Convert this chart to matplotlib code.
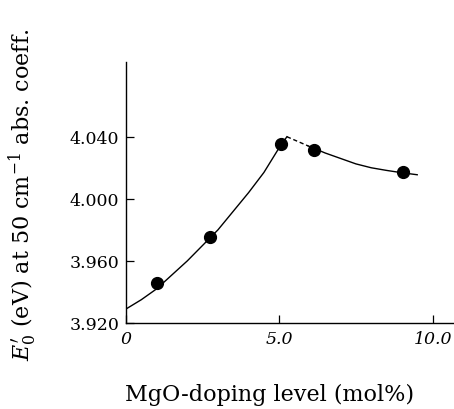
import matplotlib
matplotlib.use("Agg")
import matplotlib.pyplot as plt

# measured data points
mgo_points = [1.0, 2.75, 5.05, 6.13, 9.03]
e0_points = [3.946, 3.9757, 4.035, 4.0316, 4.0172]

# fitted curve as drawn
rise_x = [0.0, 0.5, 1.0, 1.5, 2.0, 2.5, 3.0, 3.5, 4.0, 4.5, 5.0, 5.25]
rise_y = [3.929, 3.935, 3.942, 3.951, 3.960, 3.970, 3.980, 3.992, 4.004, 4.017, 4.033, 4.040]
dash_x = [5.25, 5.6, 5.95]
dash_y = [4.040, 4.037, 4.034]
fall_x = [5.95, 6.5, 7.0, 7.5, 8.0, 8.5, 9.0, 9.5]
fall_y = [4.034, 4.0295, 4.026, 4.0225, 4.0200, 4.0183, 4.0168, 4.0155]

yticks = [3.920, 3.960, 4.000, 4.040]
ytick_labels = ["3.920", "3.960", "4.000", "4.040"]
xticks = [0, 5.0, 10.0]
xtick_labels = ["0", "5.0", "10.0"]

plt.rcParams['font.family'] = ['DejaVu Serif']
plt.rcParams['mathtext.fontset'] = 'dejavuserif'

fig = plt.figure(figsize=(4.54, 4.10), dpi=100)
ax = fig.add_axes([0.2775, 0.2098, 0.7225, 0.636])

ax.plot(rise_x, rise_y, color='black', lw=1.0)
ax.plot(dash_x, dash_y, color='black', lw=1.0, ls=(0, (3, 2)))
ax.plot(fall_x, fall_y, color='black', lw=1.0)
ax.plot(mgo_points, e0_points, 'o', color='black', markersize=8.5)

ax.set_xlim(0, 10.7)
ax.set_ylim(3.920, 4.088)
ax.set_yticks(yticks)
ax.set_yticklabels(ytick_labels, fontsize=12.5)
ax.set_xticks(xticks)
ax.set_xticklabels(xtick_labels, fontsize=12.5, style='italic')
ax.tick_params(direction='in', length=6, width=0.9, pad=5)

for s in ['top', 'right']:
    ax.spines[s].set_visible(False)
for s in ['left', 'bottom']:
    ax.spines[s].set_linewidth(1.0)

fig.text(0.05, 0.525, r"$E_0^{\prime}$ (eV) at 50 cm$^{-1}$ abs. coeff.",
         rotation=90, ha='center', va='center', fontsize=16)
fig.text(0.593, 0.037, "MgO-doping level (mol%)", ha='center', va='center', fontsize=16)

fig.savefig("out.png", dpi=100)
